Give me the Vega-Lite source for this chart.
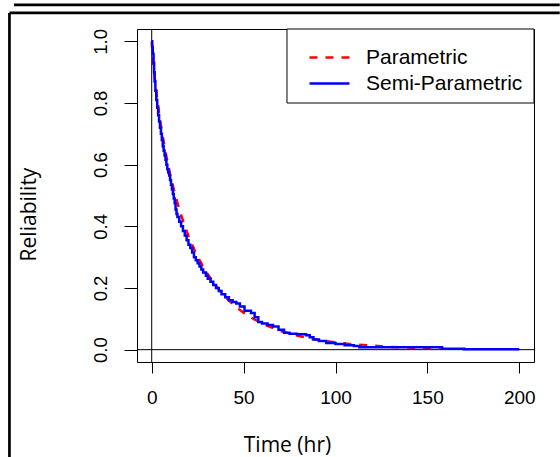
{
  "$schema": "https://vega.github.io/schema/vega-lite/v6.json",
  "autosize": "none",
  "width": 397,
  "height": 333,
  "padding": {"left": 137, "top": 29, "right": 26, "bottom": 95},
  "background": "white",
  "config": {
    "view": {"stroke": "black", "strokeWidth": 1},
    "axis": {"grid": false, "domain": false, "tickColor": "black", "labelColor": "black", "titleColor": "black", "labelFont": "Liberation Sans", "titleFont": "Open Sans", "titleFontWeight": "normal"}
  },
  "datasets": {
    "curves": [
      {"series": "Parametric", "t": 0, "R": 1.0},
      {"series": "Parametric", "t": 0.5, "R": 0.954},
      {"series": "Parametric", "t": 1, "R": 0.919},
      {"series": "Parametric", "t": 2, "R": 0.862},
      {"series": "Parametric", "t": 3, "R": 0.812},
      {"series": "Parametric", "t": 4, "R": 0.768},
      {"series": "Parametric", "t": 5, "R": 0.728},
      {"series": "Parametric", "t": 6, "R": 0.692},
      {"series": "Parametric", "t": 8, "R": 0.627},
      {"series": "Parametric", "t": 10, "R": 0.570},
      {"series": "Parametric", "t": 12, "R": 0.520},
      {"series": "Parametric", "t": 14, "R": 0.476},
      {"series": "Parametric", "t": 16, "R": 0.437},
      {"series": "Parametric", "t": 18, "R": 0.401},
      {"series": "Parametric", "t": 20, "R": 0.369},
      {"series": "Parametric", "t": 23, "R": 0.327},
      {"series": "Parametric", "t": 26, "R": 0.290},
      {"series": "Parametric", "t": 30, "R": 0.249},
      {"series": "Parametric", "t": 35, "R": 0.206},
      {"series": "Parametric", "t": 40, "R": 0.171},
      {"series": "Parametric", "t": 45, "R": 0.143},
      {"series": "Parametric", "t": 50, "R": 0.120},
      {"series": "Parametric", "t": 55, "R": 0.101},
      {"series": "Parametric", "t": 60, "R": 0.085},
      {"series": "Parametric", "t": 70, "R": 0.061},
      {"series": "Parametric", "t": 80, "R": 0.044},
      {"series": "Parametric", "t": 90, "R": 0.032},
      {"series": "Parametric", "t": 100, "R": 0.023},
      {"series": "Parametric", "t": 110, "R": 0.017},
      {"series": "Parametric", "t": 120, "R": 0.013},
      {"series": "Parametric", "t": 130, "R": 0.009},
      {"series": "Parametric", "t": 140, "R": 0.007},
      {"series": "Parametric", "t": 150, "R": 0.005},
      {"series": "Parametric", "t": 158, "R": 0.004},
      {"series": "Semi-Parametric", "t": 0, "R": 1.0},
      {"series": "Semi-Parametric", "t": 0.3, "R": 0.98},
      {"series": "Semi-Parametric", "t": 0.6, "R": 0.96},
      {"series": "Semi-Parametric", "t": 1, "R": 0.93},
      {"series": "Semi-Parametric", "t": 1.3, "R": 0.9},
      {"series": "Semi-Parametric", "t": 1.6, "R": 0.87},
      {"series": "Semi-Parametric", "t": 2, "R": 0.84},
      {"series": "Semi-Parametric", "t": 2.5, "R": 0.81},
      {"series": "Semi-Parametric", "t": 3, "R": 0.785},
      {"series": "Semi-Parametric", "t": 3.5, "R": 0.76},
      {"series": "Semi-Parametric", "t": 4, "R": 0.74},
      {"series": "Semi-Parametric", "t": 4.5, "R": 0.72},
      {"series": "Semi-Parametric", "t": 5, "R": 0.70},
      {"series": "Semi-Parametric", "t": 5.5, "R": 0.68},
      {"series": "Semi-Parametric", "t": 6, "R": 0.66},
      {"series": "Semi-Parametric", "t": 6.5, "R": 0.645},
      {"series": "Semi-Parametric", "t": 7, "R": 0.63},
      {"series": "Semi-Parametric", "t": 7.5, "R": 0.615},
      {"series": "Semi-Parametric", "t": 8, "R": 0.60},
      {"series": "Semi-Parametric", "t": 8.5, "R": 0.585},
      {"series": "Semi-Parametric", "t": 9, "R": 0.575},
      {"series": "Semi-Parametric", "t": 9.5, "R": 0.565},
      {"series": "Semi-Parametric", "t": 10, "R": 0.55},
      {"series": "Semi-Parametric", "t": 10.5, "R": 0.535},
      {"series": "Semi-Parametric", "t": 11, "R": 0.52},
      {"series": "Semi-Parametric", "t": 11.5, "R": 0.505},
      {"series": "Semi-Parametric", "t": 12, "R": 0.49},
      {"series": "Semi-Parametric", "t": 12.5, "R": 0.475},
      {"series": "Semi-Parametric", "t": 13, "R": 0.455},
      {"series": "Semi-Parametric", "t": 13.5, "R": 0.44},
      {"series": "Semi-Parametric", "t": 14, "R": 0.43},
      {"series": "Semi-Parametric", "t": 15, "R": 0.415},
      {"series": "Semi-Parametric", "t": 16, "R": 0.40},
      {"series": "Semi-Parametric", "t": 17, "R": 0.385},
      {"series": "Semi-Parametric", "t": 18, "R": 0.37},
      {"series": "Semi-Parametric", "t": 19, "R": 0.355},
      {"series": "Semi-Parametric", "t": 20, "R": 0.34},
      {"series": "Semi-Parametric", "t": 21, "R": 0.33},
      {"series": "Semi-Parametric", "t": 22, "R": 0.315},
      {"series": "Semi-Parametric", "t": 23, "R": 0.30},
      {"series": "Semi-Parametric", "t": 24, "R": 0.29},
      {"series": "Semi-Parametric", "t": 25, "R": 0.28},
      {"series": "Semi-Parametric", "t": 26, "R": 0.27},
      {"series": "Semi-Parametric", "t": 27, "R": 0.26},
      {"series": "Semi-Parametric", "t": 28, "R": 0.25},
      {"series": "Semi-Parametric", "t": 29.5, "R": 0.24},
      {"series": "Semi-Parametric", "t": 30.5, "R": 0.23},
      {"series": "Semi-Parametric", "t": 32, "R": 0.22},
      {"series": "Semi-Parametric", "t": 33.5, "R": 0.21},
      {"series": "Semi-Parametric", "t": 35, "R": 0.20},
      {"series": "Semi-Parametric", "t": 36.5, "R": 0.19},
      {"series": "Semi-Parametric", "t": 38, "R": 0.18},
      {"series": "Semi-Parametric", "t": 40, "R": 0.17},
      {"series": "Semi-Parametric", "t": 42, "R": 0.16},
      {"series": "Semi-Parametric", "t": 44, "R": 0.155},
      {"series": "Semi-Parametric", "t": 46, "R": 0.15},
      {"series": "Semi-Parametric", "t": 48, "R": 0.14},
      {"series": "Semi-Parametric", "t": 50.5, "R": 0.126},
      {"series": "Semi-Parametric", "t": 54, "R": 0.119},
      {"series": "Semi-Parametric", "t": 56, "R": 0.105},
      {"series": "Semi-Parametric", "t": 58, "R": 0.09},
      {"series": "Semi-Parametric", "t": 60, "R": 0.085},
      {"series": "Semi-Parametric", "t": 63, "R": 0.08},
      {"series": "Semi-Parametric", "t": 66, "R": 0.075},
      {"series": "Semi-Parametric", "t": 69, "R": 0.065},
      {"series": "Semi-Parametric", "t": 72, "R": 0.055},
      {"series": "Semi-Parametric", "t": 75, "R": 0.052},
      {"series": "Semi-Parametric", "t": 79, "R": 0.05},
      {"series": "Semi-Parametric", "t": 84, "R": 0.047},
      {"series": "Semi-Parametric", "t": 86, "R": 0.04},
      {"series": "Semi-Parametric", "t": 88, "R": 0.033},
      {"series": "Semi-Parametric", "t": 91, "R": 0.028},
      {"series": "Semi-Parametric", "t": 95, "R": 0.022},
      {"series": "Semi-Parametric", "t": 100, "R": 0.018},
      {"series": "Semi-Parametric", "t": 105, "R": 0.014},
      {"series": "Semi-Parametric", "t": 110, "R": 0.012},
      {"series": "Semi-Parametric", "t": 113, "R": 0.008},
      {"series": "Semi-Parametric", "t": 158, "R": 0.003},
      {"series": "Semi-Parametric", "t": 170, "R": 0.001},
      {"series": "Semi-Parametric", "t": 200, "R": 0.001}
    ]
  },
  "layer": [
    {
      "data": {"values": [{}]},
      "mark": {"type": "rule", "color": "black", "strokeWidth": 2.7, "clip": false},
      "encoding": {
        "x": {"datum": -74.9, "type": "quantitative", "scale": {"domain": [-8, 208], "nice": false, "zero": false}},
        "x2": {"datum": 222},
        "y": {"datum": 1.118, "type": "quantitative", "scale": {"domain": [-0.04, 1.04], "nice": false, "zero": false}}
      }
    },
    {
      "data": {"values": [{}]},
      "mark": {"type": "rule", "color": "black", "strokeWidth": 2.7, "clip": false},
      "encoding": {
        "x": {"datum": -77.4, "type": "quantitative"},
        "x2": {"datum": 222},
        "y": {"datum": 1.092, "type": "quantitative"}
      }
    },
    {
      "data": {"values": [{}]},
      "mark": {"type": "rule", "color": "black", "strokeWidth": 2.7, "clip": false},
      "encoding": {
        "x": {"datum": -77.4, "type": "quantitative"},
        "y": {"datum": 1.092, "type": "quantitative"},
        "y2": {"datum": -0.36}
      }
    },
    {
      "data": {"values": [{}]},
      "mark": {"type": "rule", "color": "black", "strokeWidth": 1},
      "encoding": {"x": {"datum": 0, "type": "quantitative"}}
    },
    {
      "data": {"values": [{}]},
      "mark": {"type": "rule", "color": "black", "strokeWidth": 1},
      "encoding": {"y": {"datum": 0, "type": "quantitative"}}
    },
    {
      "data": {"values": [{}]},
      "mark": {"type": "rect", "fill": "white", "stroke": "black", "strokeWidth": 1},
      "encoding": {
        "x": {"datum": 73.6, "type": "quantitative"},
        "x2": {"datum": 208},
        "y": {"datum": 0.80, "type": "quantitative"},
        "y2": {"datum": 1.04}
      }
    },
    {
      "data": {"name": "curves"},
      "transform": [{"filter": "datum.series === 'Parametric'"}],
      "mark": {"type": "line", "strokeWidth": 2.5, "interpolate": "linear"},
      "encoding": {
        "x": {"field": "t", "type": "quantitative", "title": "Time (hr)",
          "axis": {"values": [0, 50, 100, 150, 200], "tickSize": 11, "labelFontSize": 19, "labelPadding": 15, "titleFontSize": 21, "titleX": 150, "titleY": 89, "titleBaseline": "alphabetic", "titleAlign": "center"}},
        "y": {"field": "R", "type": "quantitative", "title": "Reliability",
          "axis": {"values": [0, 0.2, 0.4, 0.6, 0.8, 1.0], "format": ".1f", "tickSize": 13, "labelFontSize": 18.5, "labelAngle": 270, "labelAlign": "center", "labelBaseline": "bottom", "labelPadding": 14, "titleFontSize": 21, "titleX": -102, "titleY": 185, "titleBaseline": "alphabetic", "titleAlign": "center", "titleAngle": 270}},
        "color": {"field": "series", "type": "nominal", "title": null,
          "scale": {"domain": ["Parametric", "Semi-Parametric"], "range": ["#FF0000", "#0000FF"]},
          "legend": {"orient": "none", "legendX": 160, "legendY": 17, "symbolType": "M-2,0H2", "symbolSize": 400, "symbolStrokeWidth": 2.5, "symbolFillColor": "transparent", "symbolOffset": 21, "labelOffset": 25, "labelFontSize": 21, "labelFont": "Liberation Sans", "labelColor": "black", "padding": 0, "rowPadding": 4, "labelLimit": 400}},
        "strokeDash": {"field": "series", "type": "nominal", "title": null,
          "scale": {"domain": ["Parametric", "Semi-Parametric"], "range": [[8, 8], [1, 0]]}}
      }
    },
    {
      "data": {"name": "curves"},
      "transform": [{"filter": "datum.series === 'Semi-Parametric'"}],
      "mark": {"type": "line", "strokeWidth": 2.5, "interpolate": "step-after"},
      "encoding": {
        "x": {"field": "t", "type": "quantitative"},
        "y": {"field": "R", "type": "quantitative"},
        "color": {"field": "series", "type": "nominal", "title": null},
        "strokeDash": {"field": "series", "type": "nominal", "title": null}
      }
    }
  ]
}
